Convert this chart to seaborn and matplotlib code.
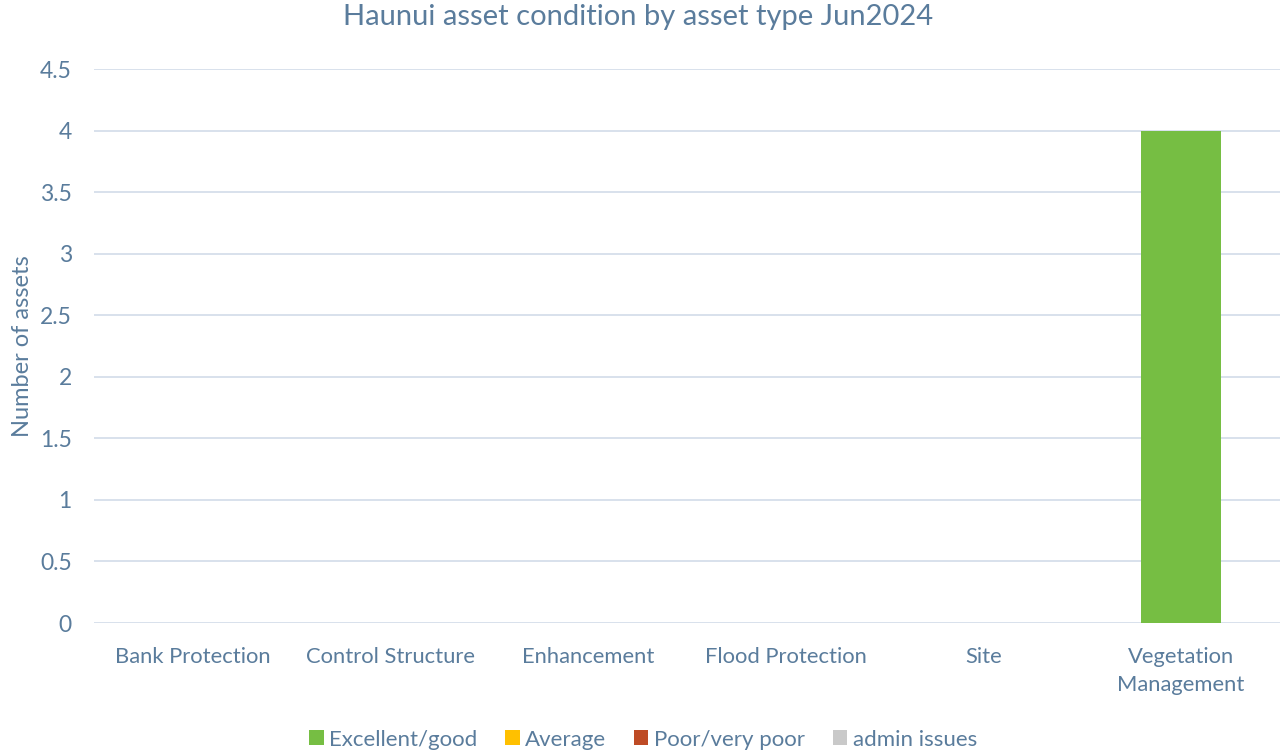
import matplotlib
matplotlib.use("Agg")
import matplotlib.pyplot as plt
import seaborn as sns
import pandas as pd
from matplotlib.patches import Patch

categories = ["Bank Protection", "Control Structure", "Enhancement", "Flood Protection", "Site", "Vegetation\nManagement"]
excellent_good = [0, 0, 0, 0, 0, 4]
average = [0, 0, 0, 0, 0, 0]
poor_very_poor = [0, 0, 0, 0, 0, 0]
admin_issues = [0, 0, 0, 0, 0, 0]
series_names = ["Excellent/good", "Average", "Poor/very poor", "admin issues"]
series_colors = ["#76BE43", "#FFC000", "#BE4B25", "#C9C9C9"]

sns.set_theme(style="white")
plt.rcParams["font.family"] = ["Lato", "DejaVu Sans"]
text_color = "#5A7C9C"

fig = plt.figure(figsize=(12.81, 7.5), dpi=100)
ax = fig.add_axes([94 / 1281, 127 / 750, 1186 / 1281, 554 / 750])

values = [excellent_good, average, poor_very_poor, admin_issues]
bottom = [0] * len(categories)
for name, vals, col in zip(series_names, values, series_colors):
    df = pd.DataFrame({"cat": categories, "val": vals})
    sns.barplot(data=df, x="cat", y="val", order=categories, color=col,
                width=0.405, bottom=bottom, ax=ax, saturation=1, zorder=3,
                linewidth=0)
    bottom = [b + v for b, v in zip(bottom, vals)]

ax.set_ylim(0, 4.5)
ax.set_xlim(-0.5, len(categories) - 0.5)
ax.set_yticks([i * 0.5 for i in range(10)])
ax.set_yticklabels(["0", "0.5", "1", "1.5", "2", "2.5", "3", "3.5", "4", "4.5"])
ax.yaxis.grid(True, color="#D8E1EC", linewidth=1.4, zorder=0)
ax.set_axisbelow(True)
for s in ax.spines.values():
    s.set_visible(False)
ax.tick_params(axis="y", length=0, labelsize=16.5, colors=text_color, pad=16)
ax.tick_params(axis="x", length=0, labelsize=15.8, colors=text_color, pad=17)
for lbl in ax.get_xticklabels():
    lbl.set_linespacing(1.55)
ax.set_xlabel("")
ax.set_ylabel("Number of assets", fontsize=17, color=text_color, labelpad=5)
fig.suptitle("Haunui asset condition by asset type Jun2024", fontsize=21, color=text_color,
             x=0.498, y=0.995, va="top")

handles = [Patch(facecolor=c, edgecolor="none") for c in series_colors]
fig.legend(handles, series_names, loc="lower center", bbox_to_anchor=(0.502, -0.026), ncol=4,
           frameon=False, fontsize=16, labelcolor=text_color, handlelength=0.65, handleheight=0.65,
           handletextpad=0.25, columnspacing=1.25)

fig.savefig("out.png", dpi=100)
